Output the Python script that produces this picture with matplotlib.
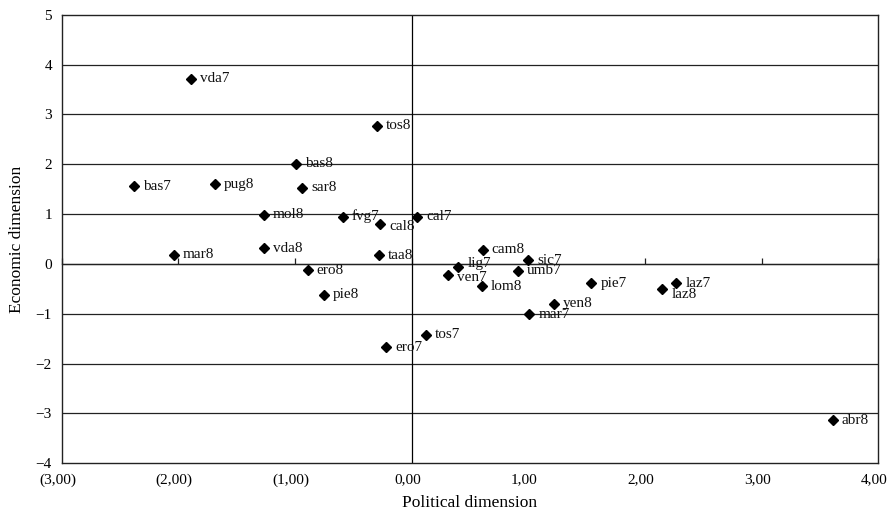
import matplotlib
matplotlib.use("Agg")
import matplotlib.pyplot as plt
import matplotlib.transforms as mtransforms
import numpy as np

# region/year codes with (political, economic) scores
names = ["vda7", "tos8", "bas8", "bas7", "pug8", "sar8", "mol8", "fvg7", "cal8", "cal7",
         "mar8", "vda8", "taa8", "cam8", "sic7", "lig7", "ven7", "umb7", "lom8", "pie7",
         "laz7", "laz8", "ero8", "pie8", "yen8", "mar7", "tos7", "ero7", "abr8"]
political = [-1.89, -0.30, -0.99, -2.38, -1.69, -0.94, -1.27, -0.59, -0.27, 0.05,
             -2.04, -1.27, -0.28, 0.61, 1.00, 0.40, 0.31, 0.91, 0.60, 1.54,
             2.27, 2.15, -0.89, -0.75, 1.22, 1.01, 0.12, -0.22, 3.61]
economic = [3.71, 2.77, 2.01, 1.56, 1.60, 1.53, 0.99, 0.95, 0.80, 0.95,
            0.18, 0.31, 0.17, 0.28, 0.07, -0.07, -0.22, -0.14, -0.45, -0.39,
            -0.39, -0.51, -0.13, -0.62, -0.80, -1.01, -1.42, -1.67, -3.14]

x_ticks = [-3, -2, -1, 0, 1, 2, 3, 4]
x_ticklabels = ["(3,00)", "(2,00)", "(1,00)", "0,00", "1,00", "2,00", "3,00", "4,00"]
y_ticks = [-4, -3, -2, -1, 0, 1, 2, 3, 4, 5]
y_ticklabels = ["\u22124", "\u22123", "\u22122", "\u22121", "0", "1", "2", "3", "4", "5"]

# small vertical nudges for a few labels (points, + is up)
nudge = {"lig7": 3, "laz8": -4, "ven7": -2, "cal8": -2}

plt.rcParams["font.family"] = ["Liberation Serif", "DejaVu Serif"]

fig = plt.figure(figsize=(8.88, 5.12), dpi=100)
ax = fig.add_axes([0.0695, 0.0951, 0.9195, 0.8762])

ax.set_xlim(-3, 4)
ax.set_ylim(-4, 5)

# horizontal gridlines and the axis lines through the origin
for yv in y_ticks[1:-1]:
    ax.axhline(yv, color="#222222", lw=0.9, zorder=1)
ax.axvline(0, color="black", lw=0.9, zorder=1)

for s in ax.spines.values():
    s.set_color("#222222")
    s.set_linewidth(1.0)

ax.plot(political, economic, linestyle="none", marker="D", markersize=4.6,
        color="black", zorder=3)

for n, xv, yv in zip(names, political, economic):
    ax.annotate(n, (xv, yv), xytext=(6.5, nudge.get(n, 0)), textcoords="offset points",
                ha="left", va="center", fontsize=11, color="#111111", zorder=4)

ax.set_xticks(x_ticks)
ax.set_xticklabels(x_ticklabels, fontsize=11)
ax.set_yticks(y_ticks)
ax.set_yticklabels(y_ticklabels, fontsize=11)
ax.tick_params(axis="both", length=0, pad=7)

# labels sit a little left of their tick, as in the original
shift = mtransforms.ScaledTranslation(-4 / 100, 0, fig.dpi_scale_trans)
for lbl in ax.get_xticklabels():
    lbl.set_transform(lbl.get_transform() + shift)

# tick marks on the horizontal axis at y = 0
sec = ax.secondary_xaxis(4 / 9)
sec.set_xticks(x_ticks)
sec.tick_params(direction="in", length=4, width=0.9, labelbottom=False, color="#222222")
sec.spines["bottom"].set_linewidth(0.9)
sec.set_xticklabels([])

ax.set_xlabel("Political dimension", fontsize=12.5, labelpad=6)
ax.set_ylabel("Economic dimension", fontsize=12.5, labelpad=8)

fig.savefig("out.png", dpi=100)
